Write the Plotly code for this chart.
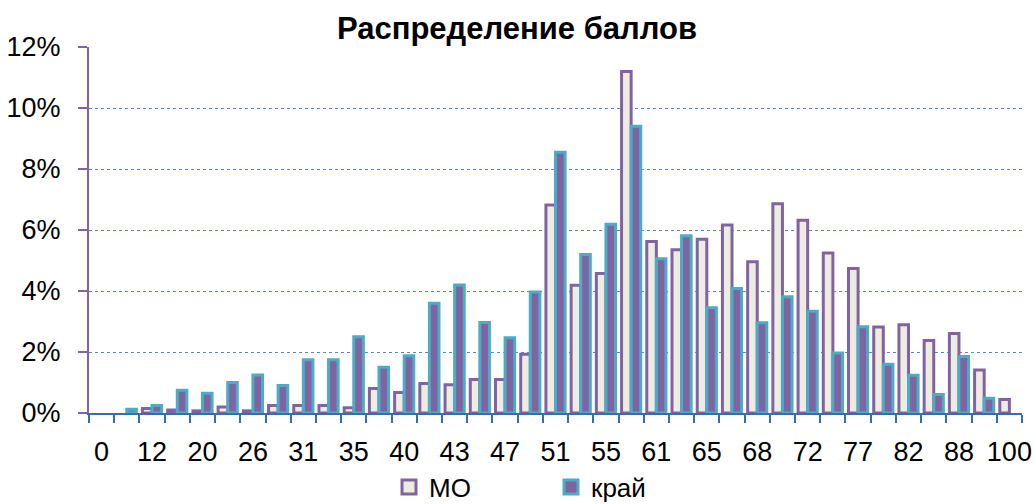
import plotly.graph_objects as go

categories = ["0", "6", "12", "16", "20", "23", "26", "29", "31", "33", "35", "38",
              "40", "42", "43", "45", "47", "49", "51", "53", "55", "58", "61", "63",
              "65", "66", "68", "70", "72", "75", "77", "80", "82", "85", "88", "94", "100"]

mo_pct = [0, 0, 0.15, 0.1, 0.07, 0.2, 0.07, 0.25, 0.25, 0.25, 0.17, 0.8,
          0.67, 0.97, 0.93, 1.1, 1.1, 1.93, 6.82, 4.19, 4.57, 11.2, 5.62, 5.35,
          5.7, 6.16, 4.96, 6.86, 6.32, 5.25, 4.74, 2.82, 2.89, 2.38, 2.61, 1.41, 0.44]

krai_pct = [0, 0.12, 0.25, 0.75, 0.65, 1.0, 1.25, 0.9, 1.75, 1.75, 2.5, 1.5,
            1.88, 3.6, 4.2, 2.97, 2.47, 3.97, 8.55, 5.2, 6.19, 9.4, 5.06, 5.81,
            3.45, 4.08, 2.96, 3.81, 3.34, 1.97, 2.83, 1.6, 1.24, 0.61, 1.85, 0.48, 0]

tick_labels = [c if i % 2 == 0 else "" for i, c in enumerate(categories)]

series = [
    ("МО", mo_pct, "#EEECE1", "#8064A2"),
    ("край", krai_pct, "#8064A2", "#4BACC6"),
]

FONT = "Liberation Sans, Arial, sans-serif"


def as_fraction(vals):
    # zero shares are not drawn (no flat sliver on the axis)
    return [v / 100 if v else None for v in vals]


fig = go.Figure()
for name, vals, fill, edge in series:
    fig.add_trace(go.Bar(
        x=categories, y=as_fraction(vals), name=name, showlegend=False,
        marker=dict(color=fill, line=dict(color=edge, width=3)),
    ))
# legend entries with larger square swatches
for name, vals, fill, edge in series:
    fig.add_trace(go.Scatter(
        x=[None], y=[None], name=name, mode="markers", showlegend=True,
        marker=dict(symbol="square", size=14, color=fill, line=dict(color=edge, width=3)),
    ))

fig.update_layout(
    width=1034, height=504,
    margin=dict(l=89, r=12, t=47, b=91, autoexpand=False),
    paper_bgcolor="white", plot_bgcolor="white",
    barmode="group", bargap=0.24, bargroupgap=0,
    title=dict(text="<b>Распределение баллов</b>", x=517 / 1034, xanchor="center",
               y=1 - 28 / 504, yanchor="middle",
               font=dict(family=FONT, size=31, color="black")),
    showlegend=True,
    legend=dict(orientation="h", xref="container", x=389 / 1034, xanchor="left",
                yref="container", y=1 - 487 / 504, yanchor="middle",
                font=dict(family=FONT, size=26, color="black"),
                entrywidth=117, traceorder="normal", itemwidth=30),
    font=dict(family=FONT, color="black"),
)

fig.update_xaxes(
    type="category", tickmode="array", tickvals=categories, ticktext=tick_labels,
    tickson="boundaries", ticks="outside", ticklen=8, tickwidth=2, tickcolor="#3D6AAF",
    showline=True, linecolor="#3D6AAF", linewidth=2, showgrid=False,
    tickfont=dict(family=FONT, size=27, color="black"), tickangle=0,
    ticklabelstandoff=14, automargin=False, fixedrange=True,
)
fig.update_yaxes(
    range=[0, 0.12], dtick=0.02, tickformat=".0%",
    ticks="outside", ticklen=9, tickwidth=2, tickcolor="#8064A2",
    showline=True, linecolor="#8064A2", linewidth=2,
    showgrid=True, gridcolor="#5B86C5", gridwidth=1, griddash="dot",
    zeroline=False,
    tickfont=dict(family=FONT, size=27, color="black"),
    ticklabelstandoff=12, automargin=False, fixedrange=True,
)

fig.write_html(
    "out.html",
    config={"displayModeBar": False},
    post_script="document.body.style.margin='0';document.body.style.overflow='hidden';",
)
